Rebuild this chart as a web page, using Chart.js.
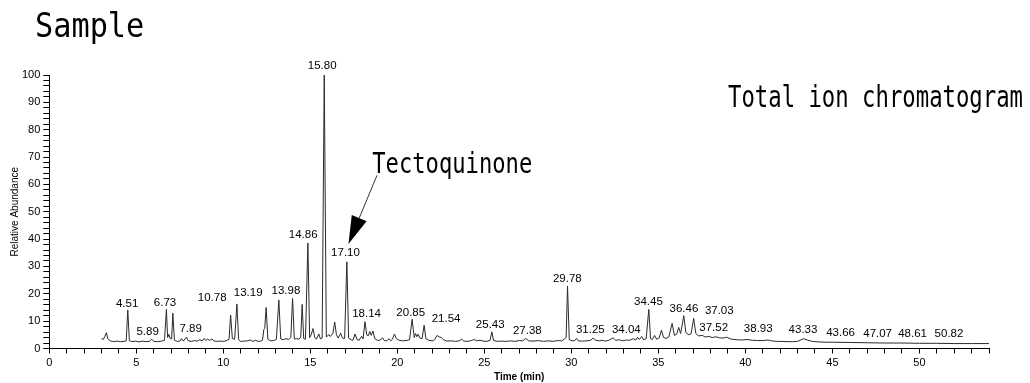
<!DOCTYPE html>
<html>
<head>
<meta charset="utf-8">
<title>Sample - Total ion chromatogram</title>
<script src="https://cdn.jsdelivr.net/npm/chart.js@4"></script>
<style>
  html, body { margin: 0; padding: 0; background: #fff; }
  #wrap { width: 1030px; height: 383px; position: relative; }
</style>
</head>
<body>
<div id="wrap"><canvas id="tic-chart"></canvas></div>
<script>
// TIC trace: retention time (min) and relative abundance (%)
const retentionTime = [
  3.00, 3.10, 3.20, 3.28, 3.36, 3.50, 3.70, 3.90, 4.10, 4.30, 4.42, 4.51, 4.60, 4.75, 4.95,
  5.15, 5.35, 5.55, 5.75, 5.89, 6.00, 6.20, 6.45, 6.62, 6.73, 6.80, 6.87, 6.95, 7.03, 7.10,
  7.19, 7.35, 7.50, 7.60, 7.70, 7.89, 7.98, 8.15, 8.35, 8.50, 8.65, 8.80, 8.90, 9.00, 9.10,
  9.20, 9.35, 9.45, 9.60, 9.80, 10.00, 10.20, 10.33, 10.42, 10.52, 10.65, 10.78, 10.88, 11.00, 11.20,
  11.40, 11.55, 11.70, 11.85, 12.00, 12.15, 12.25, 12.33, 12.38, 12.46, 12.56, 12.70, 12.90, 13.05, 13.19,
  13.30, 13.45, 13.60, 13.75, 13.88, 13.98, 14.08, 14.22, 14.35, 14.45, 14.53, 14.62, 14.72, 14.86, 14.96,
  15.05, 15.15, 15.25, 15.35, 15.49, 15.58, 15.68, 15.80, 15.92, 16.00, 16.07, 16.14, 16.22, 16.30, 16.40,
  16.50, 16.60, 16.74, 16.85, 16.97, 17.10, 17.20, 17.35, 17.45, 17.57, 17.68, 17.80, 17.95, 18.03, 18.14,
  18.24, 18.32, 18.42, 18.50, 18.60, 18.70, 18.85, 19.00, 19.15, 19.25, 19.40, 19.52, 19.62, 19.72, 19.83,
  19.95, 20.10, 20.30, 20.50, 20.70, 20.85, 20.97, 21.05, 21.12, 21.20, 21.30, 21.42, 21.54, 21.64, 21.80,
  22.00, 22.15, 22.28, 22.40, 22.52, 22.65, 22.85, 23.10, 23.35, 23.55, 23.70, 23.82, 24.00, 24.20, 24.40,
  24.55, 24.75, 24.95, 25.15, 25.33, 25.43, 25.53, 25.75, 26.00, 26.25, 26.50, 26.75, 27.00, 27.20, 27.38,
  27.55, 27.80, 28.10, 28.40, 28.70, 28.95, 29.20, 29.45, 29.60, 29.70, 29.78, 29.88, 30.05, 30.20, 30.30,
  30.40, 30.65, 30.90, 31.10, 31.25, 31.40, 31.60, 31.80, 31.95, 32.15, 32.40, 32.55, 32.75, 32.95, 33.15,
  33.35, 33.55, 33.70, 33.80, 33.90, 34.04, 34.15, 34.30, 34.45, 34.55, 34.65, 34.78, 34.90, 35.05, 35.18,
  35.30, 35.45, 35.60, 35.79, 35.92, 36.05, 36.17, 36.28, 36.46, 36.58, 36.75, 36.88, 37.03, 37.15, 37.30,
  37.52, 37.70, 37.90, 38.10, 38.30, 38.50, 38.70, 38.93, 39.20, 39.50, 39.80, 40.10, 40.40, 40.70, 41.00,
  41.30, 41.50, 41.80, 42.10, 42.40, 42.70, 43.00, 43.15, 43.33, 43.60, 43.85, 44.20, 44.60, 45.00, 46.00,
  47.00, 48.00, 49.00, 50.00, 51.00, 52.00, 53.00, 54.00
];
const relativeAbundance = [
  3.6, 3.3, 4.5, 5.8, 3.6, 2.8, 2.5, 2.7, 2.5, 2.6, 2.8, 14.1, 2.9, 2.5, 2.7,
  2.4, 2.7, 2.5, 2.6, 3.4, 2.6, 2.5, 2.7, 3.0, 14.3, 4.0, 5.2, 3.6, 3.5, 12.9,
  3.0, 2.6, 2.7, 3.6, 2.7, 4.2, 2.8, 2.6, 2.9, 2.7, 3.2, 2.8, 3.7, 2.9, 3.5,
  2.9, 3.5, 2.8, 2.6, 2.7, 2.6, 2.9, 3.4, 12.2, 3.6, 3.4, 16.3, 3.2, 2.6, 2.7,
  2.8, 3.1, 2.6, 3.0, 2.6, 2.7, 3.0, 7.0, 7.4, 15.0, 3.4, 2.8, 2.9, 3.4, 17.7,
  3.5, 3.2, 3.6, 3.3, 4.0, 18.3, 3.5, 3.6, 3.4, 4.2, 16.1, 3.6, 3.4, 38.6, 4.0,
  5.0, 7.3, 4.2, 3.4, 5.3, 3.5, 3.8, 100, 4.2, 4.6, 5.1, 4.4, 4.8, 5.6, 9.7,
  5.0, 3.8, 5.6, 3.8, 3.6, 31.7, 3.8, 3.2, 3.0, 5.3, 3.3, 3.0, 4.5, 3.5, 9.8,
  5.0, 4.6, 6.2, 4.8, 6.4, 3.6, 3.0, 3.0, 3.9, 2.9, 2.8, 3.6, 2.8, 3.4, 5.3,
  3.6, 3.0, 2.8, 2.9, 3.2, 10.7, 4.0, 5.5, 4.3, 5.2, 3.8, 3.6, 8.5, 3.6, 3.0,
  2.8, 3.2, 4.8, 4.2, 4.1, 3.2, 2.7, 2.8, 2.6, 2.8, 3.4, 2.7, 2.6, 2.8, 3.3,
  2.8, 3.0, 2.7, 2.6, 3.0, 6.1, 2.9, 2.6, 2.7, 2.6, 2.8, 2.6, 2.9, 2.8, 3.7,
  2.8, 2.7, 2.9, 2.6, 2.8, 2.6, 2.9, 2.8, 3.5, 4.0, 22.8, 3.2, 2.8, 2.9, 3.7,
  2.8, 2.7, 2.8, 3.0, 3.8, 3.0, 2.8, 3.0, 2.7, 3.0, 3.9, 3.0, 3.2, 2.8, 3.1,
  3.0, 3.6, 3.1, 4.1, 3.3, 4.4, 3.2, 3.6, 14.3, 3.6, 3.3, 4.8, 3.4, 3.9, 6.7,
  4.0, 3.7, 4.2, 9.2, 4.8, 5.2, 7.7, 5.5, 12.0, 5.8, 5.0, 5.4, 11.0, 5.6, 4.6,
  4.8, 4.2, 4.4, 4.0, 4.3, 3.9, 3.8, 4.1, 3.4, 3.2, 3.1, 3.3, 3.0, 2.9, 2.9,
  3.1, 2.8, 2.6, 2.6, 2.5, 2.5, 2.6, 3.0, 3.6, 3.0, 2.6, 2.4, 2.3, 2.3, 2.2,
  2.1, 2.0, 2.0, 1.9, 1.9, 1.8, 1.8, 1.8
];

// retention times printed over the peaks
const peakNames = [
  '4.51', '5.89', '6.73', '7.89', '10.78', '13.19', '13.98', '14.86', '15.80', '17.10',
  '18.14', '20.85', '21.54', '25.43', '27.38', '29.78', '31.25', '34.04', '34.45', '36.46',
  '37.03', '37.52', '38.93', '43.33', '43.66', '47.07', '48.61', '50.82'
];

// where each peak name sits, in axis units (min, %)
const nameSpots = [
  [4.47, 16.5], [5.65, 6.1], [6.65, 16.8], [8.12, 7.2], [9.36, 18.7], [11.43, 20.4],
  [13.6, 21.0], [14.59, 41.4], [15.68, 103.2], [17.02, 34.8], [18.23, 12.5], [20.77, 13.2],
  [22.8, 11.0], [25.34, 8.8], [27.47, 6.4], [29.77, 25.4], [31.09, 6.7], [33.16, 7.0],
  [34.43, 16.9], [36.47, 14.6], [38.5, 13.7], [38.18, 7.7], [40.74, 7.2], [43.31, 6.8],
  [45.47, 5.9], [47.6, 5.5], [49.61, 5.3], [51.7, 5.3]
];

const monoFont = '"DejaVu Sans Mono", "Liberation Mono", monospace';

// narrow mono text, squeezed horizontally
function squeezedText(ctx, text, x, y, size, sx) {
  ctx.save();
  ctx.font = size + 'px ' + monoFont;
  ctx.textAlign = 'left';
  ctx.textBaseline = 'alphabetic';
  ctx.fillStyle = '#000';
  ctx.translate(x, y);
  ctx.scale(sx, 1);
  ctx.fillText(text, 0, 0);
  ctx.restore();
}

const decorations = {
  id: 'decorations',
  afterDraw(chart) {
    const ctx = chart.ctx;
    const xs = chart.scales.x;
    const ys = chart.scales.y;

    // peak retention times
    ctx.save();
    ctx.font = '11.5px "Liberation Sans", Arial, sans-serif';
    ctx.fillStyle = '#000';
    ctx.textAlign = 'center';
    ctx.textBaseline = 'middle';
    peakNames.forEach((name, i) => {
      const [t, a] = nameSpots[i];
      ctx.fillText(name, xs.getPixelForValue(t), ys.getPixelForValue(a));
    });
    ctx.restore();

    // headings
    squeezedText(ctx, 'Sample', 35, 37, 34, 0.89);
    squeezedText(ctx, 'Total ion chromatogram', 728, 107, 29.5, 0.755);

    // compound callout with arrow
    squeezedText(ctx, 'Tectoquinone', xs.getPixelForValue(18.56), ys.getPixelForValue(64.1), 27.5, 0.805);

    const tail = { x: xs.getPixelForValue(18.83), y: ys.getPixelForValue(63.3) };
    const tip = { x: xs.getPixelForValue(17.19), y: ys.getPixelForValue(38.2) };
    const dx = tip.x - tail.x, dy = tip.y - tail.y;
    const len = Math.hypot(dx, dy);
    const ux = dx / len, uy = dy / len;
    const head = 28, half = 8;
    const bx = tip.x - ux * head, by = tip.y - uy * head;

    ctx.save();
    ctx.strokeStyle = '#333';
    ctx.lineWidth = 1;
    ctx.beginPath();
    ctx.moveTo(tail.x, tail.y);
    ctx.lineTo(bx, by);
    ctx.stroke();
    ctx.fillStyle = '#000';
    ctx.beginPath();
    ctx.moveTo(tip.x, tip.y);
    ctx.lineTo(bx - uy * half, by + ux * half);
    ctx.lineTo(bx + uy * half, by - ux * half);
    ctx.closePath();
    ctx.fill();
    ctx.restore();
  }
};

const tickFont = { family: '"Liberation Sans", Arial, sans-serif', size: 11 };

new Chart(document.getElementById('tic-chart'), {
  type: 'line',
  data: {
    datasets: [{
      data: retentionTime.map((t, i) => ({ x: t, y: relativeAbundance[i] })),
      borderColor: '#2b2b2b',
      borderWidth: 1,
      pointRadius: 0,
      tension: 0,
      fill: false
    }]
  },
  options: {
    responsive: true,
    maintainAspectRatio: false,
    animation: false,
    layout: { padding: { top: 75, right: 41, left: 0, bottom: 0 } },
    plugins: {
      legend: { display: false },
      tooltip: { enabled: false }
    },
    scales: {
      x: {
        type: 'linear',
        min: 0,
        max: 54,
        border: { color: '#000', width: 1 },
        grid: { drawOnChartArea: false, tickLength: 5, color: '#000' },
        ticks: {
          stepSize: 1,
          autoSkip: false,
          maxRotation: 0,
          padding: 3,
          color: '#000',
          font: tickFont,
          callback: v => (v % 5 === 0 ? v : '')
        },
        title: {
          display: true,
          text: 'Time (min)',
          color: '#000',
          font: { family: '"Liberation Sans", Arial, sans-serif', size: 10, weight: 'bold' },
          padding: 0
        },
        afterFit: s => { s.height = 34.5; }
      },
      y: {
        min: 0,
        max: 100,
        border: { color: '#000', width: 1 },
        grid: { drawOnChartArea: false, tickLength: 6, color: '#000' },
        ticks: {
          stepSize: 2,
          autoSkip: false,
          padding: 3,
          color: '#000',
          font: tickFont,
          callback: v => (v % 10 === 0 ? v : '')
        },
        title: {
          display: true,
          text: 'Relative Abundance',
          color: '#000',
          font: { family: '"Liberation Sans", Arial, sans-serif', size: 10 },
          padding: { top: 9, bottom: 0 }
        },
        afterFit: s => { s.width = 49.3; }
      }
    }
  },
  plugins: [decorations]
});
</script>
</body>
</html>
